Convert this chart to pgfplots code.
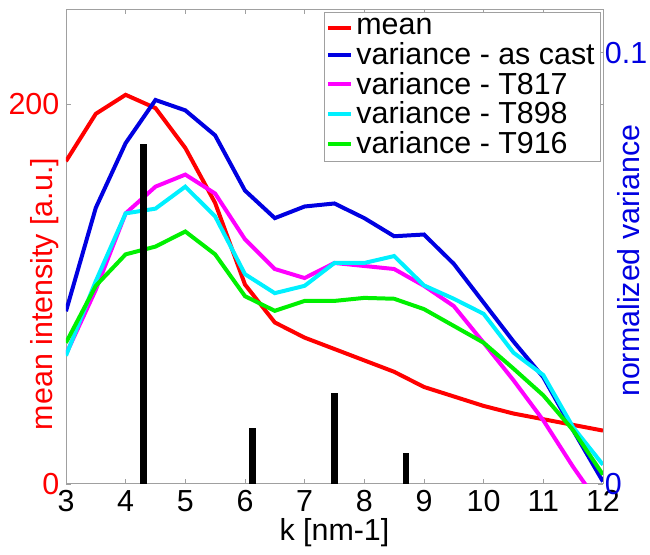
\documentclass[border=0pt]{standalone}
\usepackage{fontspec}
\setmainfont{Liberation Sans}
\usepackage{pgfplots}
\pgfplotsset{compat=1.18}

\definecolor{spine}{HTML}{A0A0A0}
\definecolor{vblue}{RGB}{0,0,225}
\definecolor{vmag}{RGB}{255,0,255}
\definecolor{vcyan}{RGB}{0,240,255}
\definecolor{vgreen}{RGB}{0,240,0}

\pgfplotsset{
  kaxis/.style={
    scale only axis,
    width=9.93cm, height=8.77cm,
    xmin=3, xmax=12,
    font=\fontsize{16}{19}\selectfont,
    /pgf/number format/assume math mode=true,
    tick align=inside,
    major tick length=0.09cm,
    every axis plot/.append style={line width=2.1pt},
  },
}

\begin{document}
\begin{tikzpicture}
% left scale: mean intensity
\begin{axis}[
  kaxis,
  name=main,
  ymin=0, ymax=250,
  ytick={0,200},
  xtick={3,4,...,12},
  yticklabel pos=left,
  yticklabel style={text=red},
  axis line style={spine},
  tick style={spine},
  xlabel={k [nm-1]},
  xlabel style={at={(axis description cs:0.5,-0.104)}, anchor=center},
  ylabel={mean intensity [a.u.]},
  ylabel style={text=red, at={(axis description cs:-0.039,0.40)}, anchor=center},
]
\addplot[red] coordinates {
  (3,170) (3.5,195) (4,205) (4.5,198) (5,177) (5.5,148) (6,105) (6.5,85)
  (7,77) (7.5,71) (8,65) (8.5,59) (9,51) (9.5,46) (10,41) (10.5,37)
  (11,34) (11.5,31) (12,28)
};
\end{axis}

% right scale: normalized variance
\begin{axis}[
  kaxis,
  ymin=0, ymax=0.11,
  axis x line=none,
  axis y line*=right,
  ytick={0,0.1},
  yticklabel style={text=vblue, xshift=-2.5pt, /pgf/number format/.cd, fixed},
  axis line style={spine},
  tick style={spine},
  ylabel={normalized variance},
  ylabel style={text=vblue, at={(axis description cs:1.047,0.47)}, anchor=center},
]
\addplot[vblue] coordinates {
  (3,0.040) (3.5,0.064) (4,0.079) (4.5,0.089) (5,0.0866) (5.5,0.0808)
  (6,0.068) (6.5,0.0616) (7,0.0643) (7.5,0.065) (8,0.0616) (8.5,0.0574)
  (9,0.0578) (9.5,0.051) (10,0.042) (10.5,0.033) (11,0.0247) (11.5,0.0124)
  (12,0.0005)
};
\addplot[vmag] coordinates {
  (3,0.030) (3.5,0.045) (4,0.0627) (4.5,0.0689) (5,0.0717) (5.5,0.0673)
  (6,0.0567) (6.5,0.0498) (7,0.0477) (7.5,0.0512) (8,0.0505) (8.5,0.0498)
  (9,0.0459) (9.5,0.0412) (10,0.0327) (10.5,0.024) (11,0.0147) (11.5,0.0039)
  (12,-0.006)
};
\addplot[vcyan] coordinates {
  (3,0.0297) (3.5,0.047) (4,0.0627) (4.5,0.0638) (5,0.0689) (5.5,0.062)
  (6,0.0486) (6.5,0.0442) (7,0.0459) (7.5,0.0512) (8,0.0512) (8.5,0.0528)
  (9,0.046) (9.5,0.0429) (10,0.0394) (10.5,0.0304) (11,0.0252) (11.5,0.0131)
  (12,0.0044)
};
\addplot[vgreen] coordinates {
  (3,0.0327) (3.5,0.0459) (4,0.0532) (4.5,0.055) (5,0.0585) (5.5,0.0532)
  (6,0.0435) (6.5,0.0401) (7,0.0424) (7.5,0.0424) (8,0.0431) (8.5,0.0429)
  (9,0.0405) (9.5,0.0366) (10,0.0327) (10.5,0.0267) (11,0.0205) (11.5,0.0124)
  (12,0.0021)
};
\end{axis}

% peak positions on top, plus the legend
\begin{axis}[
  kaxis,
  ymin=0, ymax=250,
  hide axis,
  legend style={
    at={(axis description cs:0.996,0.994)}, anchor=north east,
    draw=spine, fill=white, inner xsep=1pt, inner ysep=1pt,
    row sep=-1.5pt,
    font=\fontsize{16}{19}\selectfont,
  },
  legend cell align=left,
  legend image code/.code={\draw[#1, line width=2.1pt] (0,0) -- (0.42cm,0);},
]
\addplot[black, ycomb, line width=3.6pt, forget plot] coordinates {
  (4.3,179) (6.13,29.5) (7.5,48) (8.7,16)
};
\addlegendimage{red}
\addlegendimage{vblue}
\addlegendimage{vmag}
\addlegendimage{vcyan}
\addlegendimage{vgreen}
\legend{mean, variance - as cast, variance - T817, variance - T898, variance - T916}
\end{axis}

\pgfresetboundingbox
\path (main.south west) ++(-1.22cm,-1.31cm) rectangle ([shift={(0.87cm,0.175cm)}]main.north east);
\end{tikzpicture}
\end{document}
